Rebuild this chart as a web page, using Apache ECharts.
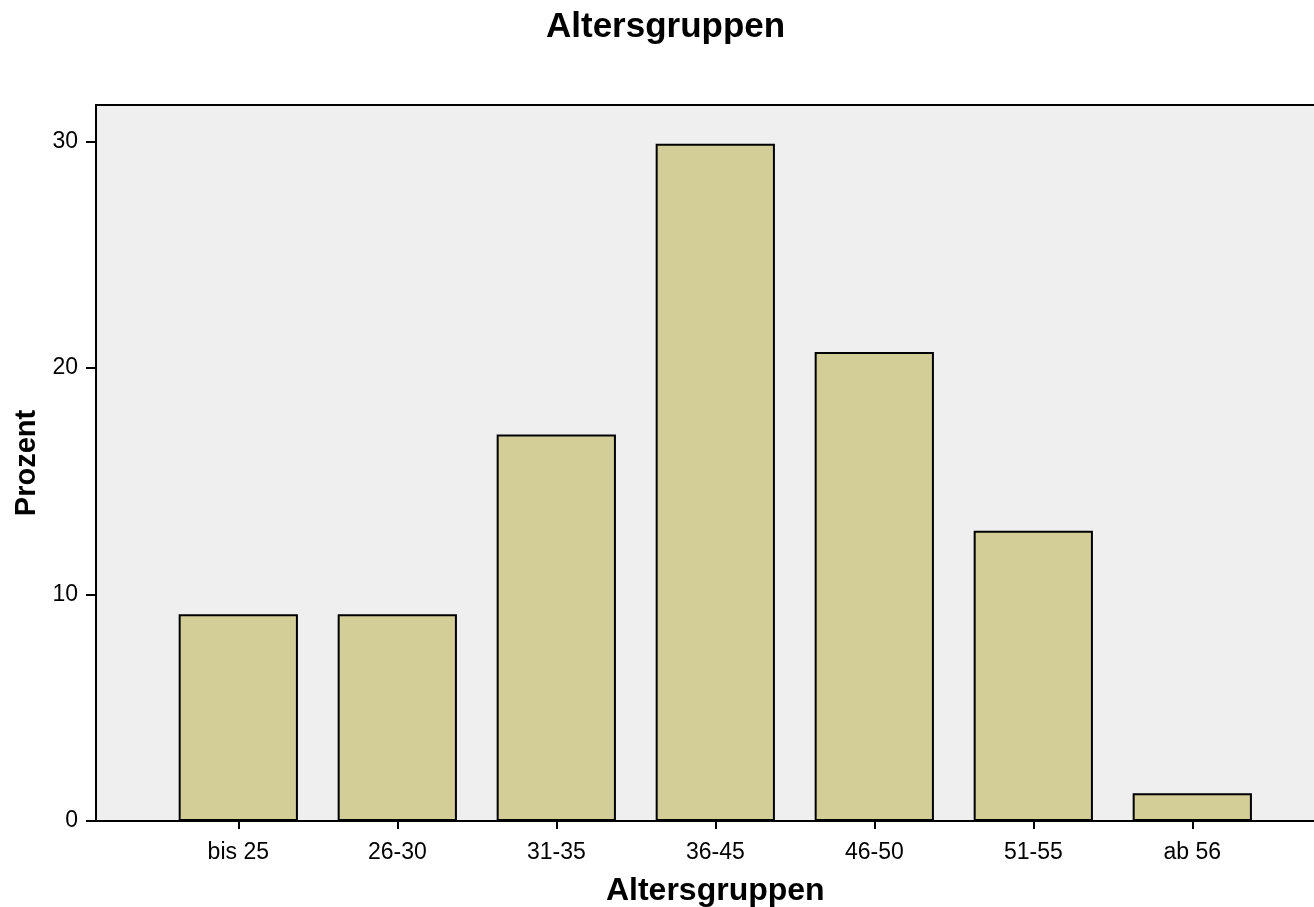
<!DOCTYPE html>
<html>
<head>
<meta charset="utf-8">
<script src="https://cdn.jsdelivr.net/npm/echarts@6/dist/echarts.min.js"></script>
<style>
html,body{margin:0;padding:0;background:#fff;}
#chart{width:1314px;height:907px;}
</style>
</head>
<body>
<div id="chart"></div>
<script>
const categories = ['bis 25', '26-30', '31-35', '36-45', '46-50', '51-55', 'ab 56'];
const percentValues = [9.13, 9.13, 17.06, 29.89, 20.70, 12.81, 1.22];
const yTickValues = [0, 10, 20, 30];

const FONT = '"Liberation Sans", Arial, Helvetica, sans-serif';
const Y_MAX = 31.6;

const chart = echarts.init(document.getElementById('chart'), null, {renderer: 'canvas'});
chart.setOption({
  animation: false,
  backgroundColor: '#ffffff',
  title: {
    text: 'Altersgruppen',
    left: 541,
    top: 5,
    textStyle: {fontFamily: FONT, fontWeight: 'bold', fontSize: 35, color: '#000'}
  },
  grid: [
    {left: 96, right: 0, top: 105, bottom: 86, show: true, backgroundColor: '#efefef', borderWidth: 0, containLabel: false, outerBoundsMode: 'none'},
    {left: 158.8, width: 1113, top: 105, bottom: 86, containLabel: false, outerBoundsMode: 'none'}
  ],
  xAxis: [
    {gridIndex: 0, type: 'value', min: 0, max: 1, position: 'bottom', z: 10,
     axisLine: {show: true, onZero: false, lineStyle: {color: '#000', width: 2}},
     axisTick: {show: false}, axisLabel: {show: false}, splitLine: {show: false}},
    {gridIndex: 0, type: 'value', min: 0, max: 1, position: 'top',
     axisLine: {show: true, onZero: false, lineStyle: {color: '#000', width: 2}},
     axisTick: {show: false}, axisLabel: {show: false}, splitLine: {show: false}},
    {gridIndex: 1, type: 'category', data: categories, position: 'bottom',
     axisLine: {show: false},
     axisTick: {show: true, alignWithLabel: true, length: 8, inside: false, lineStyle: {color: '#000', width: 2}},
     axisLabel: {fontFamily: FONT, fontSize: 23, color: '#000', margin: 20},
     splitLine: {show: false},
     name: 'Altersgruppen', nameLocation: 'middle', nameGap: 54,
     nameTextStyle: {fontFamily: FONT, fontWeight: 'bold', fontSize: 32, color: '#000'}}
  ],
  yAxis: [
    {gridIndex: 0, type: 'value', min: 0, max: Y_MAX, interval: 10,
     axisLine: {show: true, onZero: false, lineStyle: {color: '#000', width: 2}},
     axisTick: {show: true, length: 10, inside: false, customValues: yTickValues, lineStyle: {color: '#000', width: 2}},
     axisLabel: {fontFamily: FONT, fontSize: 23, color: '#000', margin: 18, customValues: yTickValues},
     splitLine: {show: false},
     name: 'Prozent', nameLocation: 'middle', nameGap: 46, nameRotate: 90,
     nameTextStyle: {fontFamily: FONT, fontWeight: 'bold', fontSize: 29, color: '#000'}},
    {gridIndex: 1, type: 'value', min: 0, max: Y_MAX, show: false}
  ],
  series: [{
    type: 'bar',
    xAxisIndex: 2,
    yAxisIndex: 1,
    data: percentValues,
    barCategoryGap: '25%',
    itemStyle: {color: '#d3ce98', borderColor: '#000', borderWidth: 2},
    z: 3
  }]
});
</script>
</body>
</html>
